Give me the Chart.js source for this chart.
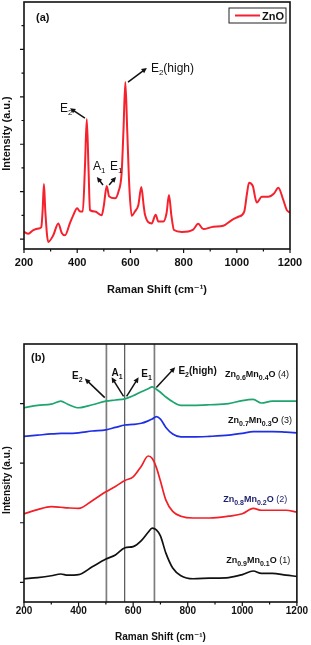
<!DOCTYPE html>
<html>
<head>
<meta charset="utf-8">
<script src="https://cdn.jsdelivr.net/npm/chart.js@4.4.1/dist/chart.umd.min.js"></script>
<style>
  html, body { margin: 0; padding: 0; background: #fff; }
  #wrap { position: relative; width: 311px; height: 645px; }
  #chartA { position: absolute; left: 0; top: 0; }
  #chartB { position: absolute; left: 0; top: 310px; }
</style>
</head>
<body>
<div id="wrap">
  <canvas id="chartA" width="311" height="310"></canvas>
  <canvas id="chartB" width="311" height="335"></canvas>
</div>
<script>
// ---- data (a) : pure ZnO ----
const ramanA = [200,216,235,260,265,270,275,280,291,310,329,342,354,373,385,400,411,421,429,436,
  443,448,467,492,500,511,520,542,555,567,574,581,588,596,605,617,630,641,650,655,
  680,695,705,724,736,745,754,764,793,836,855,874,912,949,981,1006,1028,1038,1046,1060,
  1075,1094,1118,1140,1156,1175,1188,1200];
const intensityZnO = [1.15,1.11,1.19,1.23,1.25,1.6,2.16,1.6,0.94,1.08,1.33,1.13,1.08,1.34,1.5,1.65,1.58,1.58,2.5,3.53,
  2.4,1.61,1.58,1.5,1.7,2.12,1.9,1.86,2.0,2.39,3.3,4.31,3.3,2.1,1.49,1.58,1.72,2.1,1.7,1.51,
  1.33,1.51,1.37,1.37,1.55,1.93,1.5,1.19,1.15,1.2,1.32,1.21,1.26,1.28,1.4,1.47,1.58,1.95,2.19,2.12,
  1.77,1.89,1.89,1.96,2.08,1.82,1.61,1.56];

// ---- data (b) : Zn(1-x)Mn(x)O ----
const ramanB = [200,250,300,335,360,400,450,500,535,570,600,630,655,670,685,700,720,745,775,820,
  880,950,1000,1040,1070,1110,1160,1200];
const zn09 = [1.06,1.08,1.11,1.14,1.12,1.13,1.26,1.39,1.46,1.58,1.60,1.70,1.84,1.91,1.88,1.78,1.49,1.24,1.11,1.06,
  1.07,1.08,1.13,1.19,1.15,1.15,1.12,1.10];
const zn08 = [2.15,2.22,2.27,2.26,2.25,2.24,2.37,2.52,2.61,2.71,2.77,2.95,3.12,3.08,2.93,2.70,2.38,2.19,2.11,2.08,
  2.08,2.11,2.15,2.24,2.21,2.21,2.21,2.18];
const zn07 = [3.45,3.47,3.49,3.50,3.50,3.51,3.54,3.56,3.60,3.64,3.65,3.67,3.71,3.74,3.78,3.74,3.60,3.49,3.44,3.44,
  3.45,3.47,3.50,3.53,3.53,3.53,3.52,3.51];
const zn06 = [3.93,3.97,3.99,4.04,3.99,3.93,3.98,4.04,4.06,4.08,4.13,4.20,4.25,4.28,4.24,4.19,4.11,4.03,3.97,3.97,
  3.98,4.00,4.05,4.07,4.01,4.04,4.04,4.04];
const modeLinesB = [502, 569, 678];   // E2, A1, E1/E2(high) guide lines

// ---- ticks ----
const xTickValues = [200,300,400,500,600,700,800,900,1000,1100,1200];
const yTicksA = [1,1.5,2,2.5,3,3.5,4,4.5,5,5.5];
const yTicksB = [1,2,3,4];

Chart.defaults.font.family = '"Liberation Sans", Arial, "DejaVu Sans", sans-serif';
Chart.defaults.color = '#111';

const F = '"Liberation Sans", Arial';
const pts = (xs, ys) => xs.map((v, i) => ({ x: v, y: ys[i] }));

function drawRich(ctx, x, y, segs) {
  ctx.textBaseline = 'alphabetic';
  ctx.textAlign = 'left';
  segs.forEach(s => {
    ctx.font = s[1];
    ctx.fillStyle = s[3] || '#111';
    ctx.fillText(s[0], x, y + (s[2] || 0));
    x += ctx.measureText(s[0]).width;
  });
}

function drawArrow(ctx, x1, y1, x2, y2) {
  const ang = Math.atan2(y2 - y1, x2 - x1), h = 6;
  ctx.strokeStyle = '#111';
  ctx.fillStyle = '#111';
  ctx.lineWidth = 1.5;
  ctx.beginPath();
  ctx.moveTo(x1, y1);
  ctx.lineTo(x2 - Math.cos(ang) * h * 0.8, y2 - Math.sin(ang) * h * 0.8);
  ctx.stroke();
  ctx.beginPath();
  ctx.moveTo(x2, y2);
  ctx.lineTo(x2 - h * Math.cos(ang - 0.45), y2 - h * Math.sin(ang - 0.45));
  ctx.lineTo(x2 - h * Math.cos(ang + 0.45), y2 - h * Math.sin(ang + 0.45));
  ctx.closePath();
  ctx.fill();
}

// frame, tick marks, guide lines, arrows, labels
const panelPlugin = {
  id: 'panel',
  beforeDatasetsDraw(chart, args, o) {
    const { ctx, chartArea: a, scales: { x } } = chart;
    (o.lines || []).forEach((v, i) => {
      const px = x.getPixelForValue(v);
      ctx.save();
      ctx.strokeStyle = i === 1 ? '#444' : '#7d7d7d';
      ctx.lineWidth = i === 1 ? 1.1 : 1.7;
      ctx.beginPath();
      ctx.moveTo(px, a.top);
      ctx.lineTo(px, a.bottom);
      ctx.stroke();
      ctx.restore();
    });
  },
  afterDatasetsDraw(chart, args, o) {
    const { ctx, chartArea: a, scales: { x, y } } = chart;
    ctx.save();
    ctx.strokeStyle = '#111';
    ctx.lineWidth = 1.6;
    ctx.strokeRect(a.left, a.top, a.right - a.left, a.bottom - a.top);
    ctx.lineWidth = 1.2;
    ctx.beginPath();
    x.ticks.forEach(t => {
      const px = x.getPixelForValue(t.value);
      const len = t.value % 200 === 0 ? 4 : 2.5;
      ctx.moveTo(px, a.bottom);
      ctx.lineTo(px, a.bottom + len);
    });
    y.ticks.forEach(t => {
      const py = y.getPixelForValue(t.value);
      const len = Number.isInteger(t.value) ? 4 : 2.5;
      ctx.moveTo(a.left, py);
      ctx.lineTo(a.left - len, py);
    });
    ctx.stroke();

    // y title, a little below the plot centre as in the figure
    if (o.yTitle) {
      ctx.save();
      ctx.translate(7, (a.top + a.bottom) / 2 + o.yTitle.dy);
      ctx.rotate(-Math.PI / 2);
      ctx.font = o.yTitle.font;
      ctx.fillStyle = '#111';
      ctx.textAlign = 'center';
      ctx.textBaseline = 'middle';
      ctx.fillText(o.yTitle.text, 0, 0);
      ctx.restore();
    }

    (o.arrows || []).forEach(r => drawArrow(ctx,
      x.getPixelForValue(r[0]), y.getPixelForValue(r[1]),
      x.getPixelForValue(r[2]), y.getPixelForValue(r[3])));
    (o.texts || []).forEach(t => drawRich(ctx, x.getPixelForValue(t.x), y.getPixelForValue(t.y), t.segs));

    if (o.legend) {
      const ds = chart.data.datasets[0];
      const w = 57, h = 15, bx = a.right - 4 - w, by = a.top + 6;
      ctx.lineWidth = 1;
      ctx.strokeStyle = '#222';
      ctx.strokeRect(bx, by, w, h);
      ctx.strokeStyle = ds.borderColor;
      ctx.lineWidth = 2;
      ctx.beginPath();
      ctx.moveTo(bx + 6, by + h / 2);
      ctx.lineTo(bx + 31, by + h / 2);
      ctx.stroke();
      drawRich(ctx, bx + 33, by + 11.5, [[ds.label, 'bold 11px ' + F]]);
    }
    ctx.restore();
  }
};

const sub = (s, size, bold) => [s, (bold ? 'bold ' : '') + size + 'px ' + F, 3];

function xScale(h, pad, size, titlePad) {
  return {
    type: 'linear', min: 200, max: 1200,
    afterBuildTicks: s => { s.ticks = xTickValues.map(v => ({ value: v })); },
    afterFit: s => { s.height = h; },
    grid: { display: false, drawTicks: false },
    border: { display: false },
    ticks: { padding: pad, autoSkip: false, maxRotation: 0, font: { weight: 'bold', size: size },
      callback: v => (v % 200 === 0 ? v : '') },
    title: { display: true, text: 'Raman Shift (cm⁻¹)', font: { weight: 'bold', size: size },
      padding: { top: 0, bottom: titlePad } }
  };
}
function yScale(min, max, ticks) {
  return {
    min: min, max: max,
    afterBuildTicks: s => { s.ticks = ticks.map(v => ({ value: v })); },
    afterFit: s => { s.width = 24; },
    grid: { display: false, drawTicks: false },
    border: { display: false },
    ticks: { display: false }
  };
}

// ---- panel (a) ----
new Chart(document.getElementById('chartA'), {
  type: 'line',
  data: {
    datasets: [{ label: 'ZnO', data: pts(ramanA, intensityZnO), borderColor: '#f5222d', borderWidth: 2,
      pointRadius: 0, cubicInterpolationMode: 'monotone', fill: false }]
  },
  options: {
    responsive: false, animation: false,
    layout: { padding: { left: 0, right: 21, top: 2, bottom: 0 } },
    plugins: {
      legend: { display: false }, tooltip: { enabled: false },
      panel: {
        legend: true,
        yTitle: { text: 'Intensity (a.u.)', font: 'bold 11px ' + F, dy: 8 },
        arrows: [[429, 3.55, 373, 3.76], [591, 4.31, 662, 4.61], [497, 2.14, 474, 2.31], [520, 2.14, 546, 2.31]],
        texts: [
          { x: 245, y: 5.6, segs: [['(a)', 'bold 11px ' + F]] },
          { x: 335, y: 3.68, segs: [['E', '12px ' + F], sub('2', 8)] },
          { x: 677, y: 4.52, segs: [['E', '12px ' + F], sub('2', 8), ['(high)', '12px ' + F]] },
          { x: 459, y: 2.46, segs: [['A', '12px ' + F], sub('1', 8)] },
          { x: 523, y: 2.46, segs: [['E', '12px ' + F], sub('1', 8)] }
        ]
      }
    },
    scales: { x: xScale(61, 7, 11, 13), y: yScale(0.79, 6.0, yTicksA) }
  },
  plugins: [panelPlugin]
});

// ---- panel (b) ----
const lbl = (a, b, n, col) => [['Zn', 'bold 9px ' + F, 0, col], sub(a, 7, true).concat(col), ['Mn', 'bold 9px ' + F, 0, col],
  sub(b, 7, true).concat(col), ['O ', 'bold 9px ' + F, 0, col], ['(' + n + ')', '9px ' + F, 0, col]];
const line = (data, color) => ({ data: pts(ramanB, data), borderColor: color, borderWidth: 1.7, pointRadius: 0,
  cubicInterpolationMode: 'monotone', fill: false });

new Chart(document.getElementById('chartB'), {
  type: 'line',
  data: {
    datasets: [line(zn09, '#111111'), line(zn08, '#f21f26'), line(zn07, '#1f2fe6'), line(zn06, '#1ea46e')]
  },
  options: {
    responsive: false, animation: false,
    layout: { padding: { left: 0, right: 12, top: 34, bottom: 0 } },
    plugins: {
      legend: { display: false }, tooltip: { enabled: false },
      panel: {
        lines: modeLinesB,
        yTitle: { text: 'Intensity (a.u.)', font: 'bold 10px ' + F, dy: 7 },
        arrows: [[496, 4.10, 423, 4.42], [565, 4.12, 521, 4.44], [576, 4.12, 620, 4.44], [685, 4.27, 754, 4.61]],
        texts: [
          { x: 226, y: 4.71, segs: [['(b)', 'bold 11px ' + F]] },
          { x: 376, y: 4.41, segs: [['E', 'bold 10px ' + F], sub('2', 7, true)] },
          { x: 521, y: 4.46, segs: [['A', 'bold 10px ' + F], sub('1', 7, true)] },
          { x: 630, y: 4.44, segs: [['E', 'bold 10px ' + F], sub('1', 7, true)] },
          { x: 766, y: 4.49, segs: [['E', 'bold 10px ' + F], sub('2', 7, true), ['(high)', 'bold 10px ' + F]] },
          { x: 937, y: 4.44, segs: lbl('0.6', '0.4', 4, '#111') },
          { x: 948, y: 3.68, segs: lbl('0.7', '0.3', 3, '#111') },
          { x: 930, y: 2.35, segs: lbl('0.8', '0.2', 2, '#1c1f6b') },
          { x: 941, y: 1.32, segs: lbl('0.9', '0.1', 1, '#111') }
        ]
      }
    },
    scales: { x: xScale(43, 3, 10, 2), y: yScale(0.67, 5.0, yTicksB) }
  },
  plugins: [panelPlugin]
});
</script>
</body>
</html>
